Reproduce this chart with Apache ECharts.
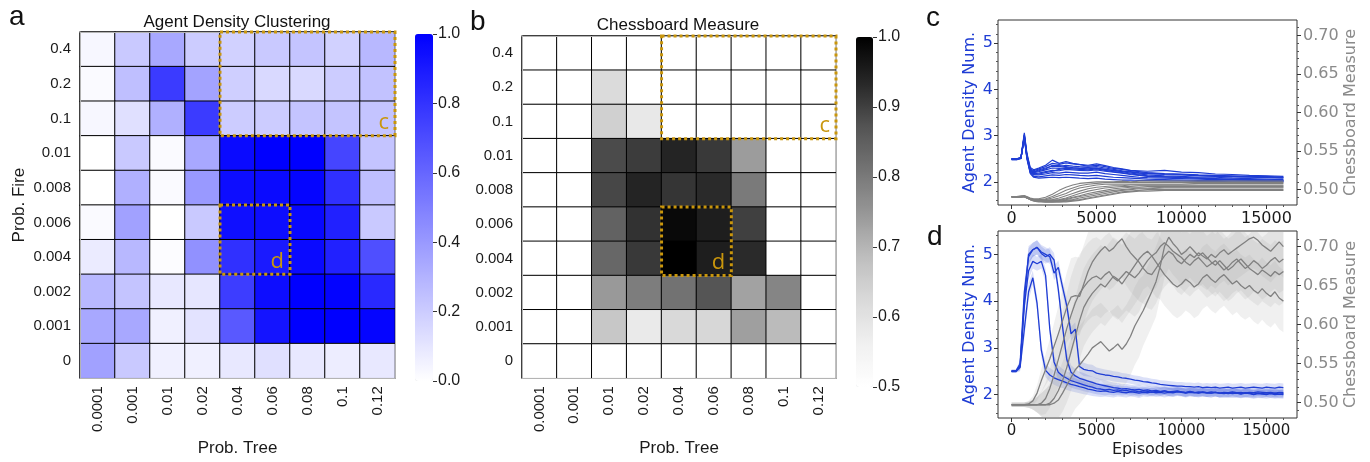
<!DOCTYPE html>
<html><head><meta charset="utf-8">
<script src="https://cdn.jsdelivr.net/npm/echarts@6/dist/echarts.min.js"></script>
<style>html,body{margin:0;padding:0;background:#fff}#c{width:1370px;height:462px}</style>
</head><body><div id="c"></div>
<script>
// ---------- heatmap categories ----------
const treeCats = ['0.0001','0.001','0.01','0.02','0.04','0.06','0.08','0.1','0.12'];
const fireCats = ['0','0.001','0.002','0.004','0.006','0.008','0.01','0.1','0.2','0.4']; // bottom -> top
// rows listed from top (0.4) to bottom (0)
const clusterRows = [
  [0.03,0.21,0.34,0.20,0.18,0.21,0.23,0.18,0.28],
  [0.02,0.25,0.77,0.36,0.19,0.15,0.15,0.20,0.24],
  [0.03,0.12,0.31,0.77,0.20,0.20,0.23,0.23,0.23],
  [0.00,0.21,0.02,0.34,0.96,1.00,1.00,0.73,0.23],
  [0.00,0.31,0.02,0.40,0.95,0.96,0.98,0.81,0.25],
  [0.02,0.37,0.00,0.21,0.94,0.95,0.97,0.87,0.21],
  [0.08,0.28,0.01,0.43,0.81,0.90,0.96,0.87,0.69],
  [0.28,0.23,0.09,0.10,0.76,0.95,1.00,0.99,0.84],
  [0.34,0.34,0.06,0.11,0.65,0.92,1.00,1.00,0.98],
  [0.37,0.21,0.06,0.06,0.09,0.12,0.09,0.07,0.09]
];
const chessRows = [
  [0.50,0.50,0.50,0.50,0.50,0.50,0.50,0.50,0.50],
  [0.50,0.50,0.62,0.50,0.50,0.50,0.50,0.50,0.50],
  [0.50,0.50,0.645,0.585,0.50,0.50,0.50,0.50,0.50],
  [0.50,0.50,0.885,0.905,0.94,0.91,0.74,0.50,0.50],
  [0.50,0.50,0.89,0.94,0.915,0.93,0.80,0.50,0.50],
  [0.50,0.50,0.845,0.92,0.985,0.95,0.90,0.50,0.50],
  [0.50,0.50,0.835,0.91,1.00,0.95,0.93,0.50,0.50],
  [0.50,0.50,0.745,0.795,0.815,0.87,0.73,0.78,0.50],
  [0.50,0.50,0.665,0.58,0.625,0.63,0.735,0.69,0.50],
  [0.50,0.50,0.50,0.50,0.50,0.50,0.50,0.50,0.50]
];
// annotation boxes: [xFrom, yFrom(bottom), xTo, yTo(top), label]
const boxes = [['0.04','0.1','0.12','0.4','c'], ['0.04','0.004','0.06','0.006','d']];
const clusterTicks = [0,0.2,0.4,0.6,0.8,1.0];
const chessTicks = [0.5,0.6,0.7,0.8,0.9,1.0];

// ---------- panel c ----------
const epC = [0,300,550,750,900,1100,1300,1600,2000,2400,2800,3200,3600,4000,4500,5000,5500,6000,6500,7000,7500,8000,9000,10000,11000,12000,13000,14000,15000,16000];
const densC1 = [2.50,2.50,2.53,3.06,2.62,2.31,2.26,2.30,2.36,2.47,2.40,2.44,2.40,2.38,2.36,2.39,2.35,2.31,2.28,2.25,2.24,2.23,2.25,2.21,2.20,2.17,2.16,2.14,2.13,2.12];
const densC2 = [2.49,2.49,2.52,3.03,2.60,2.28,2.24,2.28,2.33,2.40,2.38,2.41,2.39,2.37,2.34,2.36,2.33,2.29,2.27,2.24,2.22,2.20,2.18,2.17,2.15,2.14,2.13,2.12,2.12,2.10];
const densC3 = [2.50,2.50,2.52,3.01,2.58,2.27,2.22,2.26,2.30,2.34,2.33,2.36,2.34,2.33,2.32,2.33,2.30,2.27,2.24,2.21,2.19,2.18,2.16,2.15,2.13,2.12,2.11,2.10,2.09,2.08];
const densC4 = [2.48,2.48,2.51,2.99,2.56,2.25,2.20,2.22,2.26,2.30,2.29,2.31,2.30,2.29,2.28,2.30,2.27,2.24,2.22,2.19,2.17,2.15,2.13,2.12,2.10,2.10,2.08,2.07,2.06,2.05];
const densC5 = [2.49,2.49,2.52,2.98,2.55,2.24,2.18,2.19,2.22,2.25,2.24,2.27,2.26,2.25,2.24,2.26,2.23,2.21,2.19,2.16,2.14,2.12,2.11,2.10,2.08,2.07,2.06,2.05,2.04,2.03];
const densC6 = [2.50,2.50,2.51,2.97,2.54,2.22,2.15,2.15,2.17,2.20,2.19,2.21,2.20,2.19,2.19,2.21,2.18,2.16,2.14,2.12,2.10,2.09,2.08,2.07,2.06,2.05,2.04,2.03,2.03,2.02];
const densC7 = [2.48,2.48,2.50,2.96,2.52,2.20,2.12,2.11,2.13,2.15,2.14,2.16,2.15,2.14,2.13,2.14,2.12,2.10,2.09,2.08,2.07,2.06,2.05,2.04,2.03,2.03,2.02,2.02,2.01,2.01];
const densC8 = [2.49,2.49,2.51,2.95,2.50,2.18,2.10,2.08,2.09,2.10,2.09,2.10,2.09,2.08,2.07,2.08,2.06,2.05,2.04,2.04,2.03,2.03,2.02,2.02,2.01,2.01,2.00,2.00,2.00,2.00];
const densC9 = [2.50,2.50,2.52,3.00,2.57,2.26,2.21,2.24,2.28,2.36,2.35,2.33,2.31,2.30,2.31,2.29,2.27,2.25,2.23,2.22,2.20,2.19,2.17,2.16,2.14,2.13,2.12,2.11,2.10,2.09];
const densC10 = [2.49,2.49,2.51,2.97,2.53,2.21,2.16,2.17,2.20,2.23,2.27,2.29,2.28,2.27,2.26,2.28,2.25,2.22,2.20,2.17,2.15,2.13,2.11,2.09,2.08,2.06,2.05,2.05,2.04,2.04];
const chessC1 = [0.491,0.491,0.492,0.492,0.491,0.489,0.488,0.488,0.490,0.494,0.499,0.503,0.506,0.508,0.509,0.510,0.510,0.510,0.511,0.510,0.511,0.511,0.511,0.511,0.511,0.511,0.511,0.511,0.511,0.511];
const chessC2 = [0.490,0.490,0.491,0.492,0.490,0.488,0.487,0.487,0.488,0.491,0.495,0.499,0.502,0.505,0.507,0.508,0.509,0.509,0.509,0.509,0.509,0.509,0.509,0.509,0.509,0.509,0.509,0.509,0.509,0.509];
const chessC3 = [0.491,0.491,0.491,0.492,0.490,0.488,0.487,0.486,0.487,0.489,0.492,0.495,0.499,0.502,0.504,0.506,0.507,0.507,0.507,0.507,0.507,0.507,0.507,0.507,0.508,0.508,0.508,0.508,0.508,0.508];
const chessC4 = [0.490,0.490,0.491,0.491,0.489,0.487,0.486,0.486,0.486,0.487,0.489,0.492,0.495,0.498,0.501,0.503,0.504,0.505,0.505,0.506,0.506,0.506,0.506,0.506,0.506,0.506,0.506,0.506,0.506,0.506];
const chessC5 = [0.491,0.491,0.491,0.491,0.490,0.488,0.487,0.486,0.486,0.486,0.487,0.489,0.492,0.495,0.498,0.500,0.502,0.503,0.504,0.504,0.505,0.505,0.505,0.505,0.505,0.505,0.505,0.505,0.505,0.505];
const chessC6 = [0.490,0.490,0.490,0.491,0.489,0.487,0.486,0.485,0.485,0.486,0.486,0.488,0.490,0.492,0.495,0.497,0.499,0.501,0.502,0.503,0.503,0.504,0.504,0.504,0.504,0.504,0.504,0.504,0.504,0.504];
const chessC7 = [0.491,0.491,0.491,0.491,0.490,0.488,0.486,0.485,0.485,0.485,0.486,0.487,0.489,0.491,0.493,0.495,0.497,0.499,0.500,0.501,0.502,0.502,0.503,0.503,0.503,0.503,0.503,0.503,0.503,0.503];
const chessC8 = [0.490,0.490,0.490,0.491,0.489,0.487,0.486,0.485,0.484,0.484,0.485,0.486,0.487,0.489,0.491,0.493,0.495,0.497,0.499,0.500,0.501,0.501,0.502,0.502,0.502,0.502,0.502,0.502,0.502,0.502];
const chessC9 = [0.491,0.491,0.491,0.491,0.490,0.488,0.486,0.485,0.484,0.484,0.484,0.485,0.486,0.487,0.489,0.491,0.493,0.495,0.497,0.498,0.499,0.500,0.500,0.500,0.500,0.500,0.500,0.500,0.500,0.500];
const chessC10 = [0.490,0.490,0.490,0.490,0.489,0.487,0.485,0.484,0.484,0.484,0.484,0.484,0.485,0.486,0.488,0.490,0.492,0.494,0.496,0.497,0.498,0.498,0.499,0.499,0.499,0.499,0.499,0.499,0.499,0.499];

// ---------- panel d (episodes every 250) ----------
const epD = [0,250,500,750,1000,1250,1500,1750,2000,2250,2500,2750,3000,3250,3500,3750,4000,4250,4500,4750,5000,5250,5500,5750,6000,6250,6500,6750,7000,7250,7500,7750,8000,8250,8500,8750,9000,9250,9500,9750,10000,10250,10500,10750,11000,11250,11500,11750,12000,12250,12500,12750,13000,13250,13500,13750,14000,14250,14500,14750,15000,15250,15500,15750,16000];
const densD1 = [2.50,2.50,2.58,3.40,4.20,4.50,3.95,2.95,2.52,2.42,2.36,2.32,2.29,2.25,2.22,2.20,2.17,2.15,2.12,2.10,2.08,2.07,2.08,2.06,2.05,2.07,2.05,2.04,2.06,2.05,2.03,2.05,2.04,2.06,2.04,2.05,2.03,2.05,2.04,2.06,2.05,2.03,2.05,2.04,2.06,2.05,2.04,2.06,2.05,2.03,2.05,2.04,2.06,2.04,2.05,2.03,2.05,2.04,2.06,2.05,2.04,2.05,2.03,2.05,2.04];
const densD2 = [2.50,2.50,2.62,3.90,4.65,4.85,4.80,4.85,4.55,3.40,2.70,2.48,2.40,2.35,2.30,2.27,2.24,2.21,2.18,2.16,2.13,2.12,2.10,2.11,2.09,2.10,2.08,2.09,2.07,2.08,2.06,2.08,2.07,2.05,2.07,2.06,2.08,2.06,2.05,2.07,2.06,2.04,2.06,2.05,2.03,2.05,2.04,2.03,2.05,2.03,2.04,2.02,2.04,2.03,2.02,2.04,2.03,2.01,2.03,2.02,2.04,2.02,2.03,2.01,2.02];
const densD3 = [2.50,2.50,2.66,4.20,4.95,5.10,5.15,5.02,4.95,5.00,4.88,4.25,3.45,2.75,2.48,2.40,2.35,2.32,2.29,2.26,2.23,2.21,2.19,2.17,2.15,2.14,2.12,2.13,2.11,2.10,2.11,2.09,2.10,2.08,2.09,2.07,2.08,2.06,2.07,2.08,2.06,2.05,2.07,2.05,2.04,2.06,2.04,2.03,2.05,2.03,2.02,2.04,2.02,2.03,2.01,2.03,2.02,2.00,2.02,2.01,2.00,2.02,2.00,2.01,2.00];
const densD4 = [2.50,2.50,2.60,4.00,5.00,5.10,5.15,5.05,5.00,4.95,4.60,4.72,4.30,3.90,3.30,3.40,2.60,2.54,2.52,2.51,2.46,2.44,2.42,2.41,2.39,2.38,2.36,2.35,2.33,2.31,2.30,2.28,2.27,2.25,2.24,2.22,2.21,2.20,2.19,2.18,2.18,2.17,2.17,2.16,2.17,2.15,2.16,2.15,2.16,2.14,2.15,2.16,2.14,2.15,2.16,2.14,2.15,2.16,2.15,2.14,2.16,2.15,2.14,2.16,2.15];
const densSpreadD = [0.03,0.03,0.08,0.20,0.18,0.15,0.15,0.15,0.15,0.15,0.15,0.15,0.15,0.15,0.15,0.15,0.14,0.14,0.13,0.13,0.12,0.12,0.12,0.11,0.11,0.11,0.10,0.10,0.10,0.10,0.10,0.09,0.09,0.09,0.09,0.09,0.09,0.09,0.09,0.09,0.09,0.09,0.09,0.09,0.09,0.09,0.09,0.09,0.09,0.09,0.09,0.09,0.09,0.09,0.09,0.09,0.09,0.09,0.09,0.09,0.09,0.09,0.09,0.09,0.09];
const chessD1 = [0.497,0.497,0.497,0.497,0.498,0.502,0.512,0.528,0.542,0.556,0.572,0.588,0.605,0.622,0.635,0.637,0.636,0.652,0.668,0.680,0.688,0.695,0.700,0.694,0.698,0.705,0.710,0.700,0.692,0.686,0.680,0.672,0.666,0.664,0.672,0.680,0.688,0.694,0.690,0.682,0.678,0.684,0.690,0.686,0.692,0.688,0.684,0.690,0.686,0.692,0.696,0.690,0.694,0.698,0.702,0.706,0.710,0.712,0.708,0.702,0.698,0.694,0.700,0.706,0.700];
const chessD2 = [0.497,0.497,0.497,0.497,0.497,0.497,0.497,0.499,0.505,0.518,0.535,0.555,0.575,0.595,0.612,0.628,0.640,0.648,0.655,0.660,0.662,0.658,0.664,0.668,0.660,0.656,0.662,0.668,0.664,0.660,0.666,0.674,0.682,0.688,0.692,0.700,0.705,0.700,0.694,0.690,0.686,0.680,0.676,0.682,0.686,0.680,0.674,0.678,0.682,0.676,0.670,0.674,0.680,0.684,0.678,0.672,0.676,0.682,0.678,0.672,0.676,0.682,0.686,0.680,0.684];
const chessD3 = [0.497,0.497,0.497,0.497,0.497,0.497,0.497,0.497,0.497,0.499,0.505,0.515,0.528,0.545,0.565,0.585,0.605,0.622,0.632,0.640,0.646,0.652,0.648,0.655,0.662,0.658,0.652,0.660,0.668,0.676,0.684,0.690,0.694,0.688,0.680,0.672,0.664,0.658,0.652,0.648,0.652,0.658,0.654,0.648,0.652,0.660,0.664,0.658,0.654,0.660,0.664,0.658,0.652,0.656,0.650,0.646,0.650,0.644,0.640,0.646,0.640,0.636,0.642,0.634,0.630];
const chessD4 = [0.497,0.497,0.497,0.497,0.497,0.497,0.497,0.497,0.497,0.497,0.499,0.503,0.512,0.522,0.532,0.542,0.548,0.555,0.562,0.570,0.574,0.578,0.572,0.566,0.570,0.575,0.568,0.575,0.585,0.598,0.608,0.618,0.630,0.642,0.655,0.675,0.700,0.712,0.704,0.698,0.690,0.694,0.700,0.694,0.688,0.692,0.686,0.680,0.676,0.682,0.676,0.670,0.674,0.680,0.684,0.678,0.672,0.668,0.664,0.670,0.666,0.662,0.668,0.664,0.668];
const chessSpreadD = [0.003,0.003,0.003,0.003,0.004,0.006,0.010,0.015,0.020,0.025,0.030,0.035,0.040,0.045,0.050,0.050,0.050,0.050,0.050,0.050,0.050,0.050,0.050,0.050,0.050,0.050,0.050,0.050,0.050,0.050,0.050,0.045,0.045,0.045,0.045,0.040,0.040,0.040,0.040,0.040,0.040,0.040,0.040,0.040,0.040,0.040,0.040,0.040,0.040,0.040,0.040,0.040,0.040,0.040,0.040,0.040,0.040,0.040,0.040,0.040,0.040,0.040,0.040,0.040,0.040];

// ---------- ticks for line panels ----------
const epTicks = [0,5000,10000,15000];
const epMinor = [1000,2000,3000,4000,6000,7000,8000,9000,11000,12000,13000,14000,16000];
const densTicks = [2,3,4,5];
const densMinor = [1.6,1.8,2.2,2.4,2.6,2.8,3.2,3.4,3.6,3.8,4.2,4.4,4.6,4.8,5.2,5.4];
const chessTicksR = [0.50,0.55,0.60,0.65,0.70];
const chessMinor = [0.49,0.51,0.52,0.53,0.54,0.56,0.57,0.58,0.59,0.61,0.62,0.63,0.64,0.66,0.67,0.68,0.69,0.71];

// ---------- style constants ----------
const GOLD = '#c9960c';
const BLUE = '#1f3dd4';
const GRAY = '#808080';
const SANS = '"Liberation Sans", Arial, sans-serif';
const DJV = '"DejaVu Sans", sans-serif';
const GREYS = ['#ffffff','#f0f0f0','#d9d9d9','#bdbdbd','#969696','#737373','#525252','#252525','#000000'];

function heatData(rows){
  const out = [];
  rows.forEach((row, r) => row.forEach((v, c) => out.push([c, rows.length - 1 - r, v])));
  return out;
}
function boxData(){
  return boxes.map(b => [treeCats.indexOf(b[0]), fireCats.indexOf(b[1]), treeCats.indexOf(b[2]), fireCats.indexOf(b[3])]);
}
function boxSeries(xi, yi){
  return {
    type: 'custom', xAxisIndex: xi, yAxisIndex: yi, z: 20, silent: true,
    data: boxData(), encode: {x: [0, 2], y: [1, 3]},
    renderItem(params, api){
      const a = api.coord([api.value(0), api.value(3)]);
      const b = api.coord([api.value(2), api.value(1)]);
      const s = api.size([1, 1]);
      const x = a[0] - s[0] / 2, y = a[1] - s[1] / 2;
      const w = b[0] - a[0] + s[0], h = b[1] - a[1] + s[1];
      return {type: 'group', children: [
        {type: 'rect', shape: {x, y, width: w, height: h},
         style: {fill: 'none', stroke: GOLD, lineWidth: 3, lineDash: [3, 3]}},
        {type: 'text', style: {text: boxes[params.dataIndex][4], x: x + w - 6, y: y + h - 2,
          align: 'right', textAlign: 'right', verticalAlign: 'bottom', textVerticalAlign: 'bottom',
          fill: GOLD, fontSize: 22, fontFamily: '"Open Sans", sans-serif'}}
      ]};
    }
  };
}
function zip(xs, ys){ const n = Math.min(xs.length, ys.length); const o = []; for (let i = 0; i < n; i++) o.push([xs[i], ys[i]]); return o; }
function lineS(xs, ys, xi, yi, color, w){
  return {type: 'line', xAxisIndex: xi, yAxisIndex: yi, data: zip(xs, ys), showSymbol: false, symbol: 'none',
    silent: true, clip: true, lineStyle: {color, width: w}, itemStyle: {color}, emphasis: {disabled: true}};
}
function bandS(xs, ys, sp, xi, yi, fill){
  const n = Math.min(xs.length, ys.length, sp.length);
  const data = []; for (let i = 0; i < n; i++) data.push([xs[i], ys[i] - sp[i], ys[i] + sp[i]]);
  return {type: 'custom', xAxisIndex: xi, yAxisIndex: yi, clip: true, silent: true, data, encode: {x: 0, y: [1, 2]},
    renderItem(params, api){
      if (params.dataIndex !== 0) return null;
      const pts = [];
      for (const d of data) pts.push(api.coord([d[0], d[2]]));
      for (let i = data.length - 1; i >= 0; i--) pts.push(api.coord([data[i][0], data[i][1]]));
      return {type: 'polygon', shape: {points: pts}, style: {fill, stroke: null}};
    }};
}

// ---------- axes ----------
function heatX(gi){
  return {type: 'category', gridIndex: gi, data: treeCats, position: 'bottom', z: 10,
    axisLine: {show: true, onZero: false, lineStyle: {color: '#b4b4b4', width: 1}}, axisTick: {show: false},
    axisLabel: {rotate: 90, fontSize: 15, color: '#1a1a1a', fontFamily: SANS, margin: 8},
    name: 'Prob. Tree', nameLocation: 'middle', nameGap: 57,
    nameTextStyle: {fontSize: 17, color: '#1a1a1a', fontFamily: SANS}, splitLine: {show: false}};
}
function frameX(gi){
  return {type: 'category', gridIndex: gi, data: treeCats, position: 'top', z: 10,
    axisLine: {show: true, onZero: false, lineStyle: {color: '#b4b4b4'}}, axisTick: {show: false}, axisLabel: {show: false}, splitLine: {show: false}};
}
function heatY(gi, named){
  const o = {type: 'category', gridIndex: gi, data: fireCats, position: 'left', z: 10,
    axisLine: {show: true, onZero: false, lineStyle: {color: '#b4b4b4'}}, axisTick: {show: false},
    axisLabel: {fontSize: 15, color: '#1a1a1a', fontFamily: SANS, margin: 9}, splitLine: {show: false}};
  if (named) Object.assign(o, {name: 'Prob. Fire', nameLocation: 'middle', nameGap: 52,
    nameTextStyle: {fontSize: 17, color: '#1a1a1a', fontFamily: SANS}});
  return o;
}
function frameY(gi){
  return {type: 'category', gridIndex: gi, data: fireCats, position: 'right', z: 10,
    axisLine: {show: true, onZero: false, lineStyle: {color: '#b4b4b4'}}, axisTick: {show: false}, axisLabel: {show: false}, splitLine: {show: false}};
}
function hiddenX(gi){
  return {type: 'category', gridIndex: gi, data: [''], show: false};
}
function cbarY(gi, ticks){
  return {type: 'value', gridIndex: gi, position: 'right', min: ticks[0], max: ticks[ticks.length - 1],
    axisLine: {show: false, onZero: false}, splitLine: {show: false},
    axisTick: {show: true, length: 4, customValues: ticks, lineStyle: {color: '#333'}},
    axisLabel: {customValues: ticks, fontSize: 16, color: '#1a1a1a', fontFamily: SANS, margin: 5,
      formatter: v => v.toFixed(1)}};
}
function epX(gi, named, fs){
  const o = {type: 'value', gridIndex: gi, position: 'bottom', min: -800, max: 16800,
    axisLine: {show: false, onZero: false}, splitLine: {show: false},
    axisTick: {show: true, length: 4, customValues: epTicks, lineStyle: {color: '#333'}},
    axisLabel: {customValues: epTicks, fontSize: fs, color: '#1a1a1a', fontFamily: DJV, margin: 6,
      formatter: v => String(Math.round(v))}};
  if (named) Object.assign(o, {name: 'Episodes', nameLocation: 'middle', nameGap: 24,
    nameTextStyle: {fontSize: 16, color: '#1a1a1a', fontFamily: DJV}});
  return o;
}
function minorAxis(gi, pos, min, max, vals){
  return {type: 'value', gridIndex: gi, position: pos, min, max,
    axisLine: {show: false, onZero: false}, splitLine: {show: false},
    axisTick: {show: true, length: 2, customValues: vals, lineStyle: {color: '#555'}},
    axisLabel: {show: false}};
}
function densY(gi){
  return {type: 'value', gridIndex: gi, position: 'left', min: 1.5, max: 5.5,
    axisLine: {show: false, onZero: false}, splitLine: {show: false},
    axisTick: {show: true, length: 4, customValues: densTicks, lineStyle: {color: '#333'}},
    axisLabel: {customValues: densTicks, fontSize: 16, color: BLUE, fontFamily: DJV, margin: 5},
    name: 'Agent Density Num.', nameLocation: 'middle', nameGap: 20,
    nameTextStyle: {fontSize: 16, color: BLUE, fontFamily: DJV}};
}
function chessY(gi){
  return {type: 'value', gridIndex: gi, position: 'right', min: 0.48, max: 0.72,
    axisLine: {show: false, onZero: false}, splitLine: {show: false},
    axisTick: {show: true, length: 4, customValues: chessTicksR, lineStyle: {color: '#333'}},
    axisLabel: {customValues: chessTicksR, fontSize: 16, color: '#8a8a8a', fontFamily: DJV, margin: 6,
      formatter: v => v.toFixed(2)},
    name: 'Chessboard Measure', nameLocation: 'middle', nameGap: 44, nameRotate: 90,
    nameTextStyle: {fontSize: 16, color: '#8a8a8a', fontFamily: DJV}};
}

const xAxis = [
  heatX(0), frameX(0), hiddenX(1),
  heatX(2), frameX(2), hiddenX(3),
  epX(4, false, 16), minorAxis(4, 'bottom', -800, 16800, epMinor),
  epX(5, true, 15), minorAxis(5, 'bottom', -800, 16800, epMinor)
];
const yAxis = [
  heatY(0, true), frameY(0), cbarY(1, clusterTicks),
  heatY(2, false), frameY(2), cbarY(3, chessTicks),
  densY(4), minorAxis(4, 'left', 1.5, 5.5, densMinor), chessY(4), minorAxis(4, 'right', 0.48, 0.72, chessMinor),
  densY(5), minorAxis(5, 'left', 1.5, 5.5, densMinor), chessY(5), minorAxis(5, 'right', 0.48, 0.72, chessMinor)
];

const grid = [
  {left: 80, top: 32, width: 315, height: 350},
  {left: 415, top: 34, width: 18, height: 347},
  {left: 522, top: 36, width: 314, height: 350},
  {left: 856, top: 37, width: 17, height: 350},
  {left: 998, top: 20, width: 299, height: 185, show: true, borderColor: '#333', borderWidth: 1, backgroundColor: 'transparent'},
  {left: 998, top: 231, width: 299, height: 187, show: true, borderColor: '#333', borderWidth: 1, backgroundColor: 'transparent'}
];

const series = [
  {type: 'heatmap', xAxisIndex: 0, yAxisIndex: 0, data: heatData(clusterRows), silent: true,
   itemStyle: {borderColor: '#000', borderWidth: 1}, emphasis: {disabled: true}},
  boxSeries(0, 0),
  {type: 'heatmap', xAxisIndex: 3, yAxisIndex: 3, data: heatData(chessRows), silent: true,
   itemStyle: {borderColor: '#000', borderWidth: 1}, emphasis: {disabled: true}},
  boxSeries(3, 3)
];
// panel c
[densC1,densC2,densC3,densC4,densC5,densC6,densC7,densC8,densC9,densC10].forEach(d => series.push(lineS(epC, d, 6, 6, BLUE, 1.2)));
[chessC1,chessC2,chessC3,chessC4,chessC5,chessC6,chessC7,chessC8,chessC9,chessC10].forEach(d => series.push(lineS(epC, d, 6, 8, GRAY, 1.1)));
// panel d
const densD = [densD1, densD2, densD3, densD4];
const chessD = [chessD1, chessD2, chessD3, chessD4];
densD.forEach(d => series.push(bandS(epD, d, densSpreadD, 8, 10, 'rgba(31,61,212,0.16)')));
densD.forEach(d => series.push(lineS(epD, d, 8, 10, BLUE, 1.3)));
chessD.forEach(d => series.push(bandS(epD, d, chessSpreadD, 8, 12, 'rgba(160,160,160,0.16)')));
chessD.forEach(d => series.push(lineS(epD, d, 8, 12, GRAY, 1.3)));

const visualMap = [
  {type: 'continuous', seriesIndex: 0, min: 0, max: 1, calculable: false, show: true, orient: 'vertical',
   left: 415, top: 34, itemWidth: 18, itemHeight: 347, padding: 0, text: null, showLabel: false,
   inRange: {color: ['#ffffff', '#0000ff']}, hoverLink: false},
  {type: 'continuous', seriesIndex: 2, min: 0.5, max: 1, calculable: false, show: true, orient: 'vertical',
   left: 856, top: 37, itemWidth: 17, itemHeight: 350, padding: 0, text: null, showLabel: false,
   inRange: {color: GREYS}, hoverLink: false}
];

function txt(text, x, y, size, family, align){
  return {type: 'text', x, y, silent: true, style: {text, fontSize: size, fontFamily: family, fill: '#111',
    align: align || 'left', textAlign: align || 'left', verticalAlign: 'middle', textVerticalAlign: 'middle'}};
}
const graphic = [
  txt('a', 9, 17, 28, SANS), txt('b', 470, 22, 28, SANS), txt('c', 926, 18, 28, SANS), txt('d', 927, 237, 28, SANS),
  txt('Agent Density Clustering', 237, 22, 17, SANS, 'center'),
  txt('Chessboard Measure', 678, 25, 17, SANS, 'center')
];

const chart = echarts.init(document.getElementById('c'), null, {renderer: 'canvas'});
chart.setOption({animation: false, backgroundColor: '#fff', grid, xAxis, yAxis, series, visualMap, graphic});
</script></body></html>
